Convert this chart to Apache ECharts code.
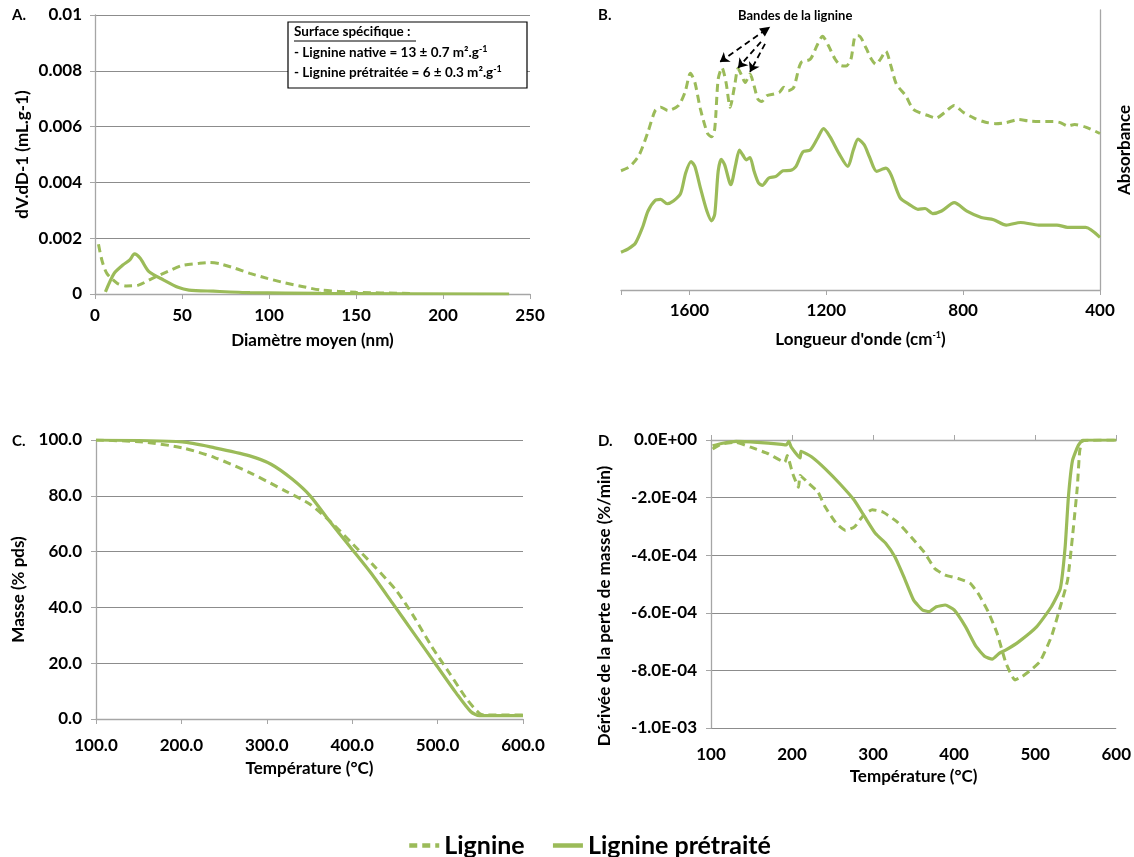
<!DOCTYPE html>
<html><head><meta charset="utf-8">
<script src="https://cdn.jsdelivr.net/npm/echarts@6/dist/echarts.min.js"></script>
<style>html,body{margin:0;padding:0;background:#fff}#c{width:1134px;height:857px}</style>
</head><body><div id="c"></div>
<script>
// ---- Panel A: pore size distribution (nm, mL/g)
const aLignine = [[2,0.00178],[4,0.0012],[6.8,0.00074],[12.9,0.00038],[18,0.00029],[25,0.00032],[33,0.00056],[41.6,0.0008],[50,0.00102],[60,0.0011],[66,0.00113],[72,0.00108],[80.5,0.00092],[89,0.00074],[99,0.00056],[109,0.0004],[119,0.00027],[130,0.00014],[150,0.00006],[181,0.00002]];
const aPretraite = [[6,0.00008],[11,0.00074],[16,0.00104],[20,0.00122],[22.7,0.00144],[26,0.00128],[31,0.0008],[39.5,0.0005],[47.7,0.00024],[54,0.00014],[68,0.0001],[89,0.00005],[130,0.00002],[238,0]];
// ---- Panel B: FTIR spectra (cm-1, arbitrary absorbance)
const bLignine = [[1800,42.6],[1774,44.1],[1747,48.2],[1721,56.5],[1700,64.1],[1684,65.3],[1663,64.1],[1632,65.9],[1613,70.6],[1597,77.4],[1584,74.1],[1568,64.7],[1547,55.9],[1535,54.7],[1526,57.6],[1516,75.3],[1505,79.4],[1493,74.1],[1481,65.3],[1468,72.9],[1458,79.1],[1447,76.5],[1437,74.1],[1423,77.1],[1411,72.9],[1400,68.2],[1389,67.3],[1374,69.4],[1353,70],[1337,70.6],[1324,72.4],[1311,71.2],[1295,72.4],[1274,81.2],[1247,82.4],[1226,87.6],[1211,90.6],[1195,87.6],[1174,82.4],[1158,80.2],[1142,80],[1128,82.4],[1116,90.6],[1105,90.8],[1084,86.5],[1068,82.4],[1055,80.6],[1042,82.4],[1026,85.3],[1011,80],[995,73.5],[968,69.4],[947,64.7],[926,63.3],[905,62.4],[879,61.4],[853,63.5],[826,65.9],[800,63.5],[768,61.4],[737,60],[705,59.4],[674,59.8],[637,60.9],[611,60.4],[579,60.2],[537,60.2],[516,59.8],[495,58.6],[474,59.1],[442,58.2],[400,55.9]];
const bPretraite = [[1800,13.5],[1779,14.7],[1758,16.7],[1737,22.4],[1721,28.2],[1700,32],[1684,32.4],[1665,30.8],[1647,31.8],[1626,34.4],[1611,41.8],[1595,45.9],[1584,44.1],[1568,36.5],[1549,28.2],[1535,24.7],[1526,27.1],[1516,42.4],[1507,46.7],[1497,44.7],[1479,37.6],[1465,44.7],[1454,50],[1444,48.2],[1434,46.5],[1423,47.3],[1411,42.4],[1398,38.2],[1387,37.4],[1368,40],[1347,40.6],[1326,42.6],[1305,42.7],[1289,44.1],[1268,49.4],[1247,50],[1226,54.1],[1208,57.6],[1189,54.7],[1163,48.8],[1137,44.1],[1121,50],[1107,53.9],[1089,51.8],[1074,47.6],[1053,42.4],[1026,43.5],[1011,41.2],[984,32.9],[958,30.6],[932,28.8],[911,29.1],[889,27.3],[863,28.2],[826,31.2],[789,28.2],[747,25.9],[711,25.1],[674,23.2],[632,24.1],[579,23.2],[526,23.2],[495,22.4],[442,22.4],[400,18.8]];
// ---- Panel C: TGA mass (%)
const cLignine = [[100,100],[155,99.3],[201,97.2],[239,93.7],[280,88.3],[322,81.7],[351,76.9],[376,70.3],[401,62.6],[426,54.7],[451,46.3],[472,36.8],[493,26],[514,16.4],[535,6.8],[549,2],[555,1.4],[600,1.4]];
const cPretraite = [[100,100],[201,99.3],[239,97.2],[280,94.3],[305,91.3],[330,85.9],[351,79.9],[372,71.5],[397,61.9],[422,52.3],[447,41.6],[472,30.8],[497,20],[522,9.2],[539,2.6],[549,1.2],[600,1.2]];
// ---- Panel D: DTG (%/min)
const dLignine = [[102,-0.000031],[113,-0.000014],[131,-0.000008],[149,-0.000025],[171,-0.000048],[191,-0.000077],[194,-0.000054],[201,-0.000118],[208,-0.000164],[210,-0.000123],[221,-0.000152],[232,-0.000181],[241,-0.000233],[255,-0.000291],[266,-0.000314],[277,-0.000302],[288,-0.000262],[299,-0.000242],[312,-0.00025],[330,-0.000285],[347,-0.000337],[363,-0.000389],[376,-0.000446],[389,-0.000469],[405,-0.000481],[420,-0.000498],[431,-0.000539],[442,-0.000596],[453,-0.000671],[464,-0.000775],[475,-0.000833],[484,-0.000821],[495,-0.000798],[506,-0.000769],[520,-0.000683],[531,-0.000579],[540,-0.000487],[546,-0.000337],[552,-0.000164],[555,-0.000037],[559,-0.000002],[600,0]];
const dPretraite = [[102,-0.00002],[113,-0.000012],[131,-0.000005],[157,-0.000008],[184,-0.000014],[193,-0.000017],[196,-0.000005],[199,-0.000025],[210,-0.000062],[211,-0.000039],[224,-0.000058],[241,-0.0001],[259,-0.000152],[277,-0.00021],[290,-0.000268],[303,-0.000325],[316,-0.00036],[327,-0.000406],[338,-0.000475],[350,-0.000556],[361,-0.00059],[369,-0.000596],[378,-0.000579],[389,-0.000573],[400,-0.00059],[414,-0.000648],[427,-0.000717],[438,-0.000752],[447,-0.000761],[456,-0.00074],[464,-0.000729],[480,-0.0007],[502,-0.000648],[520,-0.000579],[531,-0.000516],[537,-0.000371],[541,-0.000198],[546,-0.000072],[553,-0.00002],[559,0],[600,0]];

const seriesNames = ['Lignine','Lignine prétraité'];
const green = '#9BBB59';
const FONT = 'Lato';
const gridColor = '#8c8c8c';
const axisColor = '#a6a6a6';

const chart = echarts.init(document.getElementById('c'), null, {renderer:'canvas'});

const lbl = {color:'#000', fontFamily:FONT, fontWeight:'bold', fontSize:17};
const nameStyle = {color:'#000', fontFamily:FONT, fontWeight:'bold', fontSize:17};
function vAxisBase(extra){
  return Object.assign({
    type:'value',
    axisLine:{show:true, lineStyle:{color:axisColor, width:1.3}},
    axisTick:{show:true, length:5, lineStyle:{color:axisColor}},
    splitLine:{show:true, lineStyle:{color:gridColor, width:1}},
    axisLabel:Object.assign({}, lbl),
    nameTextStyle:nameStyle,
    nameLocation:'middle'
  }, extra);
}
function sci(v){
  if (Math.abs(v) < 1e-12) return '0.0E+00';
  const e = Math.floor(Math.log10(Math.abs(v)) + 1e-9);
  const m = v/Math.pow(10,e);
  return m.toFixed(1)+'E'+(e<0?'-':'+')+String(Math.abs(e)).padStart(2,'0');
}
const dashed = {color:green, width:3, type:[8,5]};
const solid = {color:green, width:3.2, type:'solid'};
function line(name, data, xi, yi, ls, extra){
  return Object.assign({name, type:'line', data, xAxisIndex:xi, yAxisIndex:yi, showSymbol:false, symbol:'none',
    smooth:0.25, lineStyle:ls, itemStyle:{color:green}, animation:false, z:3}, extra||{});
}
const supRich = {fontSize:9, fontWeight:'bold', fontFamily:FONT, verticalAlign:'top', padding:[0,0,7,0]};

const option = {
  animation:false,
  textStyle:{fontFamily:FONT},
  grid:[
    {left:95, top:15, width:435, height:279},
    {left:621, top:10, width:479, height:280},
    {left:96, top:440, width:427, height:279},
    {left:711, top:440, width:406, height:288}
  ],
  legend:{
    data:seriesNames, left:402, top:828, itemWidth:30, itemHeight:14, itemGap:26,
    itemStyle:{opacity:0},
    lineStyle:{width:4.5},
    textStyle:{color:'#000', fontFamily:FONT, fontWeight:'bold', fontSize:25}
  },
  xAxis:[
    vAxisBase({gridIndex:0, min:0, max:250, interval:50, name:'Diamètre moyen (nm)', nameGap:38,
      splitLine:{show:false}, axisLabel:Object.assign({}, lbl, {margin:13})}),
    vAxisBase({gridIndex:1, min:400, max:1800, interval:400, inverse:true,
      name:"Longueur d'onde (cm{sup|-1})", nameGap:41,
      nameTextStyle:Object.assign({}, nameStyle, {rich:{sup:supRich}}),
      splitLine:{show:false},
      axisLabel:Object.assign({}, lbl, {margin:12, formatter:v=> v===1800?'':String(v)})}),
    vAxisBase({gridIndex:2, min:100, max:600, interval:100, name:'Température (°C)', nameGap:41,
      splitLine:{show:false}, axisLabel:Object.assign({}, lbl, {margin:18, formatter:v=>v.toFixed(1)})}),
    vAxisBase({gridIndex:3, min:100, max:600, interval:100, name:'Température (°C)', nameGap:40,
      position:'bottom', axisLine:{show:false}, axisTick:{show:false}, splitLine:{show:false},
      axisLabel:Object.assign({}, lbl, {margin:18})}),
    vAxisBase({gridIndex:3, min:100, max:600, interval:100, position:'top',
      axisLabel:{show:false}, splitLine:{show:false}, axisTick:{show:true, length:5, lineStyle:{color:axisColor}}})
  ],
  yAxis:[
    vAxisBase({gridIndex:0, min:0, max:0.01, interval:0.002, name:'dV.dD-1 (mL.g-1)', nameGap:64,
      axisLabel:Object.assign({}, lbl, {margin:13})}),
    vAxisBase({gridIndex:1, min:0, max:100, position:'right', name:'Absorbance', nameGap:16, nameRotate:90,
      axisLabel:{show:false}, axisTick:{show:false}, splitLine:{show:false}}),
    vAxisBase({gridIndex:2, min:0, max:100, interval:20, name:'Masse (% pds)', nameGap:69,
      nameTextStyle:Object.assign({}, nameStyle, {padding:[0,20,0,0]}),
      axisLabel:Object.assign({}, lbl, {margin:14, formatter:v=>v.toFixed(1)})}),
    vAxisBase({gridIndex:3, min:-0.001, max:0, interval:0.0002, name:'Dérivée de la perte de masse (%/min)', nameGap:98,
      nameTextStyle:Object.assign({}, nameStyle, {padding:[0,44,0,0]}),
      axisLabel:Object.assign({}, lbl, {margin:14, formatter:sci})})
  ],
  series:[
    line(seriesNames[0], aLignine, 0, 0, dashed),
    line(seriesNames[1], aPretraite, 0, 0, solid),
    line(seriesNames[0], bLignine, 1, 1, dashed, {
      markLine:{silent:true, animation:false, label:{show:false},
        lineStyle:{color:'#000', type:[6,4], width:1.8},
        symbolSize:9,
        data:[
          [{coord:[1376,93], symbol:'triangle', symbolSize:10}, {coord:[1511,81.4], symbol:'arrow'}],
          [{coord:[1391,88.6], symbol:'none'}, {coord:[1458,79.3], symbol:'arrow'}],
          [{coord:[1379,87.9], symbol:'none'}, {coord:[1423,77.9], symbol:'arrow'}]
        ]}
    }),
    line(seriesNames[1], bPretraite, 1, 1, solid),
    line(seriesNames[0], cLignine, 2, 2, dashed),
    line(seriesNames[1], cPretraite, 2, 2, solid),
    line(seriesNames[0], dLignine, 3, 3, dashed, {smooth:0.15}),
    line(seriesNames[1], dPretraite, 3, 3, solid, {smooth:0.15})
  ],
  graphic:[
    {type:'text', left:12, top:8, style:{text:'A.', font:'bold 15px '+FONT, fill:'#000'}},
    {type:'text', left:598, top:8, style:{text:'B.', font:'bold 15px '+FONT, fill:'#000'}},
    {type:'text', left:12, top:434, style:{text:'C.', font:'bold 15px '+FONT, fill:'#000'}},
    {type:'text', left:598, top:434, style:{text:'D.', font:'bold 15px '+FONT, fill:'#000'}},
    {type:'text', left:738, top:9, style:{text:'Bandes de la lignine', font:'bold 13px '+FONT, fill:'#000'}},
    {type:'rect', shape:{x:288, y:22, width:239, height:66}, style:{fill:'#fff', stroke:'#000', lineWidth:1.2}, z:10},
    {type:'text', x:294, y:25, z:11, style:{text:'Surface spécifique :', font:'bold 13.5px '+FONT, fill:'#000'}},
    {type:'line', shape:{x1:294, y1:41, x2:416, y2:41}, style:{stroke:'#000', lineWidth:1}, z:11},
    {type:'text', x:294, y:45, z:11, style:{text:'- Lignine native = 13 ± 0.7 m².g{s|-1}',
      font:'bold 13.5px '+FONT, fill:'#000', rich:{s:supRich}}},
    {type:'text', x:294, y:65, z:11, style:{text:'- Lignine prétraitée = 6 ± 0.3 m².g{s|-1}',
      font:'bold 13.5px '+FONT, fill:'#000', rich:{s:supRich}}}
  ]
};
chart.setOption(option);
</script>
</body></html>
